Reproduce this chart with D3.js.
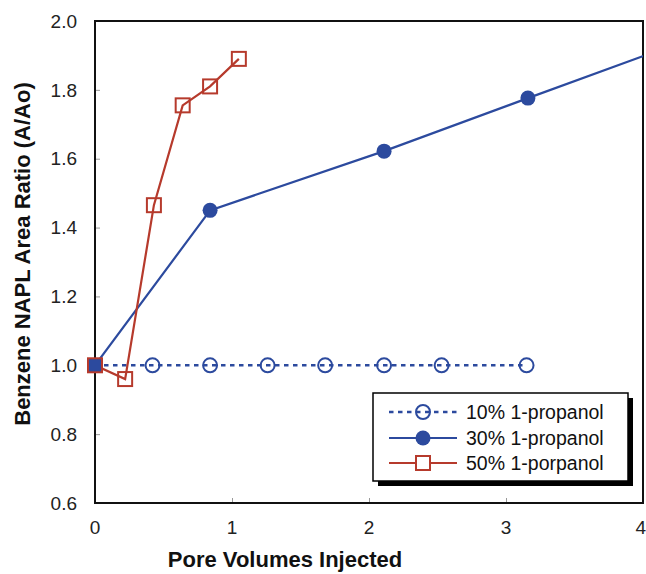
<!DOCTYPE html>
<html>
<head>
<meta charset="utf-8">
<script src="https://cdn.jsdelivr.net/npm/d3@7"></script>
<style>
  html, body { margin: 0; padding: 0; background: #fff; }
  svg { display: block; font-family: "Liberation Sans", Arial, sans-serif; }
</style>
</head>
<body>
<svg id="chart" width="646" height="574"></svg>
<script>
// Pore volumes injected (x) and benzene NAPL area ratio A/Ao (y) per flush
const pv10 = [0, 0.42, 0.84, 1.26, 1.68, 2.11, 2.53, 3.15];
const ratio10 = [1.0, 1.0, 1.0, 1.0, 1.0, 1.0, 1.0, 1.0];

const pv30 = [0, 0.84, 2.11, 3.16, 4.22];
const ratio30 = [1.0, 1.45, 1.622, 1.776, 1.93];

const pv50 = [0, 0.22, 0.43, 0.64, 0.84, 1.05];
const ratio50 = [1.0, 0.96, 1.465, 1.755, 1.81, 1.89];

const xTicks = [0, 1, 2, 3, 4];
const yTicks = [0.6, 0.8, 1.0, 1.2, 1.4, 1.6, 1.8, 2.0];

const seriesNames = ["10% 1-propanol", "30% 1-propanol", "50% 1-porpanol"];

const BLUE = "#2c4a9e";
const RED = "#b63a2c";

const svg = d3.select("#chart");
const plot = { left: 95, right: 643, top: 21, bottom: 503 };

const x = d3.scaleLinear().domain([0, 4]).range([plot.left, plot.right]);
const y = d3.scaleLinear().domain([0.6, 2.0]).range([plot.bottom, plot.top]);

svg.append("defs").append("clipPath").attr("id", "plotClip")
  .append("rect")
  .attr("x", plot.left).attr("y", plot.top)
  .attr("width", plot.right - plot.left).attr("height", plot.bottom - plot.top);

// Inward tick marks
const yAxis = d3.axisRight(y).tickValues(yTicks).tickSize(5).tickFormat("");
svg.append("g").attr("transform", `translate(${plot.left},0)`).call(yAxis)
  .call(g => g.select(".domain").remove())
  .call(g => g.selectAll("line").attr("stroke", "#999").attr("stroke-width", 1));

const xAxis = d3.axisTop(x).tickValues(xTicks).tickSize(5).tickFormat("");
svg.append("g").attr("transform", `translate(0,${plot.bottom})`).call(xAxis)
  .call(g => g.select(".domain").remove())
  .call(g => g.selectAll("line").attr("stroke", "#999").attr("stroke-width", 1));

// Tick labels
svg.append("g").selectAll("text").data(yTicks).join("text")
  .attr("x", 77).attr("y", d => y(d)).attr("dy", "0.35em")
  .attr("text-anchor", "end").attr("font-size", 19).attr("fill", "#222")
  .text(d => d3.format(".1f")(d));

// the last label sits at the right edge of the page, so it is end-anchored
svg.append("g").selectAll("text").data(xTicks).join("text")
  .attr("x", (d, i) => i === xTicks.length - 1 ? 646 : x(d)).attr("y", 527).attr("dy", "0.35em")
  .attr("text-anchor", (d, i) => i === xTicks.length - 1 ? "end" : "middle")
  .attr("font-size", 19).attr("fill", "#222")
  .text(d => d);

// Plot frame
svg.append("rect")
  .attr("x", plot.left).attr("y", plot.top)
  .attr("width", plot.right - plot.left).attr("height", plot.bottom - plot.top)
  .attr("fill", "none").attr("stroke", "#111").attr("stroke-width", 2);

// Axis titles
svg.append("text")
  .attr("x", 285).attr("y", 567)
  .attr("text-anchor", "middle").attr("font-size", 22).attr("font-weight", "bold")
  .attr("fill", "#111")
  .text("Pore Volumes Injected");

svg.append("text")
  .attr("transform", "translate(30,254) rotate(-90)")
  .attr("text-anchor", "middle").attr("font-size", 22).attr("font-weight", "bold")
  .attr("fill", "#111")
  .text("Benzene NAPL Area Ratio (A/Ao)");

const zip = (xs, ys) => xs.map((v, i) => [v, ys[i]]);
const d10 = zip(pv10, ratio10), d30 = zip(pv30, ratio30), d50 = zip(pv50, ratio50);
const line = d3.line().x(d => x(d[0])).y(d => y(d[1]));

// Lines are clipped to the plot frame; markers are not
const lines = svg.append("g").attr("clip-path", "url(#plotClip)");
const marks = svg.append("g");

// 10% series: dotted line, open circles
lines.append("path").datum(d10).attr("d", line)
  .attr("fill", "none").attr("stroke", BLUE).attr("stroke-width", 2.5)
  .attr("stroke-dasharray", "4.5,4.5");
// 30% series: solid line
lines.append("path").datum(d30).attr("d", line)
  .attr("fill", "none").attr("stroke", BLUE).attr("stroke-width", 2.2);
// 50% series: solid line
lines.append("path").datum(d50).attr("d", line)
  .attr("fill", "none").attr("stroke", RED).attr("stroke-width", 2.2);

marks.selectAll(".c10").data(d10.slice(1)).join("circle")
  .attr("cx", d => x(d[0])).attr("cy", d => y(d[1])).attr("r", 7)
  .attr("fill", "none").attr("stroke", BLUE).attr("stroke-width", 2);

marks.selectAll(".c30").data(d30.slice(1)).join("circle")
  .attr("cx", d => x(d[0])).attr("cy", d => y(d[1])).attr("r", 7.5)
  .attr("fill", BLUE);

// open squares; the shared start point is drawn filled
marks.selectAll(".s50").data(d50).join("rect")
  .attr("x", d => x(d[0]) - 7).attr("y", d => y(d[1]) - 7)
  .attr("width", 14).attr("height", 14)
  .attr("fill", (d, i) => i === 0 ? BLUE : "none")
  .attr("stroke", RED).attr("stroke-width", 2);

// Legend
const lg = svg.append("g");
const box = { x: 373, y: 393, w: 255, h: 88 };
lg.append("rect").attr("x", box.x + 5).attr("y", box.y + 5)
  .attr("width", box.w).attr("height", box.h).attr("fill", "#000");
lg.append("rect").attr("x", box.x).attr("y", box.y)
  .attr("width", box.w).attr("height", box.h)
  .attr("fill", "#fff").attr("stroke", "#000").attr("stroke-width", 1.5);

const rows = [412, 438, 463];
const sx0 = 389, sx1 = 457, sm = 423;
// row 1
lg.append("line").attr("x1", sx0).attr("x2", sx1).attr("y1", rows[0]).attr("y2", rows[0])
  .attr("stroke", BLUE).attr("stroke-width", 2.5).attr("stroke-dasharray", "4.5,4.5");
lg.append("circle").attr("cx", sm).attr("cy", rows[0]).attr("r", 7)
  .attr("fill", "none").attr("stroke", BLUE).attr("stroke-width", 2);
// row 2
lg.append("line").attr("x1", sx0).attr("x2", sx1).attr("y1", rows[1]).attr("y2", rows[1])
  .attr("stroke", BLUE).attr("stroke-width", 2.2);
lg.append("circle").attr("cx", sm).attr("cy", rows[1]).attr("r", 7.5).attr("fill", BLUE);
// row 3
lg.append("line").attr("x1", sx0).attr("x2", sx1).attr("y1", rows[2]).attr("y2", rows[2])
  .attr("stroke", RED).attr("stroke-width", 2.2);
lg.append("rect").attr("x", sm - 7).attr("y", rows[2] - 7).attr("width", 14).attr("height", 14)
  .attr("fill", "#fff").attr("stroke", RED).attr("stroke-width", 2);

lg.selectAll(".lt").data(seriesNames).join("text")
  .attr("x", 466).attr("y", (d, i) => rows[i]).attr("dy", "0.35em")
  .attr("font-size", 19.5).attr("fill", "#111")
  .text(d => d);
</script>
</body>
</html>
